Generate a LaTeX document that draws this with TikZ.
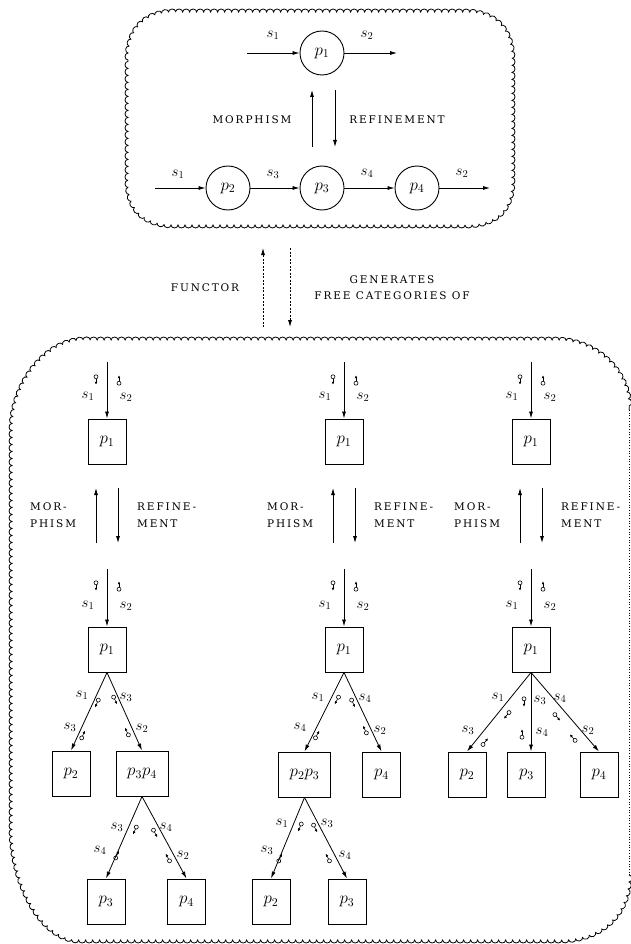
\RequirePackage{fix-cm}
\documentclass[tikz,border=0pt]{standalone}
\usepackage{fontspec}
\newfontfamily\capfont[LetterSpace=18]{DejaVu Serif}
\usetikzlibrary{arrows.meta,decorations.pathmorphing}
\tikzset{
 cloud/.style={decorate,decoration={bumps,segment length=14pt,amplitude=3pt},line width=0.8pt},
 proc/.style={circle,draw,line width=0.9pt,minimum size=44pt,inner sep=0pt,font=\fontsize{17}{19}\selectfont},
 pbox/.style={rectangle,draw,line width=1pt,minimum width=38pt,minimum height=45pt,inner sep=0pt,font=\fontsize{17}{19}\selectfont},
 wbox/.style={pbox,minimum width=52pt},
 flow/.style={-{Latex[length=7pt,width=4pt]},line width=0.8pt},
 dflow/.style={flow,dash pattern=on 2pt off 1.5pt},
 captext/.style={font=\capfont\fontsize{10.5}{17}\selectfont,inner sep=0pt},
 slab/.style={font=\fontsize{15}{17}\selectfont,inner sep=0pt},
}
\newcommand\tok[3]{%
 \draw[line width=0.6pt] (#1,#2) ++({#3+180}:3.2pt) circle[radius=2pt];
 \draw[line width=0.6pt,-{Latex[length=3pt,width=2.8pt]}] (#1,#2) ++({#3+180}:1.2pt) -- ++(#3:6pt);
}
\begin{document}
\begin{tikzpicture}[x=1pt,y=-1pt]
\useasboundingbox (0,0) rectangle (631,944);
% ---------- top box ----------
\draw[cloud] (128,60) .. controls (128,30) and (145,12) .. (175,12) -- (465,12)
  .. controls (495,12) and (512,30) .. (512,60) -- (512,180)
  .. controls (512,210) and (495,225) .. (465,225) -- (175,225)
  .. controls (145,225) and (128,210) .. (128,180) -- cycle;
\node[proc] (tp1) at (322,53) {$p_1$};
\node[proc] (tp2) at (228,188) {$p_2$};
\node[proc] (tp3) at (322,188) {$p_3$};
\node[proc] (tp4) at (417,188) {$p_4$};
\coordinate (tin1) at (247,53); \coordinate (tout1) at (397,53);
\coordinate (tin2) at (155,188); \coordinate (tout2) at (490,188);
\draw[flow] (tin1) -- (tp1);
\draw[flow] (tp1) -- (tout1);
\draw[flow] (tin2) -- (tp2);
\draw[flow] (tp2) -- (tp3);
\draw[flow] (tp3) -- (tp4);
\draw[flow] (tp4) -- (tout2);
\node[slab] (ts1a) at (273,35) {$s_1$};
\node[slab] (ts2a) at (367,35) {$s_2$};
\node[slab] (ts1b) at (178,174) {$s_1$};
\node[slab] (ts3b) at (273,174) {$s_3$};
\node[slab] (ts4b) at (367,173) {$s_4$};
\node[slab] (ts2b) at (462,173) {$s_2$};
\coordinate (mu1) at (312,147); \coordinate (mu2) at (312,90);
\coordinate (md1) at (335,90); \coordinate (md2) at (335,147);
\draw[flow] (mu1) -- (mu2);
\draw[flow] (md1) -- (md2);
\node[captext] (tmor) at (252,120) {MORPHISM};
\node[captext] (tref) at (397,120) {REFINEMENT};
% ---------- functor ----------
\coordinate (fu1) at (263,327); \coordinate (fu2) at (263,248);
\coordinate (fd1) at (290,248); \coordinate (fd2) at (290,327);
\draw[dflow] (fu1) -- (fu2);
\draw[dflow] (fd1) -- (fd2);
\node[captext] (functor) at (205,288) {FUNCTOR};
\node[captext,align=center,font=\capfont\fontsize{10.5}{16}\selectfont] (gen) at (392,288) {GENERATES\\FREE CATEGORIES OF};
% ---------- bottom box ----------
\draw[cloud] (629,875) .. controls (629,915) and (600,940) .. (560,940) -- (80,940)
  .. controls (40,940) and (12,880) .. (12,830) -- (12,430)
  .. controls (12,385) and (45,340) .. (85,340) -- (555,340)
  .. controls (595,340) and (629,370) .. (629,410);
\draw[dotted,line width=0.7pt] (629,410) -- (629,875);
% ---------- three columns ----------
\foreach \c/\x in {L/107,M/344,R/531}{
  \node[pbox] (\c a) at (\x,441.5) {$p_1$};
  \coordinate (\c ain) at (\x,362);
  \draw[flow] (\c ain) -- (\c a);
  \node[slab] (\c s1a) at (\x-19,396) {$s_1$};
  \node[slab] (\c s2a) at (\x+19,397) {$s_2$};
  \tok{\x-11}{380}{270}
  \tok{\x+12}{380}{90}
  \coordinate (\c mu1) at (\x-11,543); \coordinate (\c mu2) at (\x-11,488);
  \coordinate (\c md1) at (\x+11,488); \coordinate (\c md2) at (\x+11,543);
  \draw[flow] (\c mu1) -- (\c mu2);
  \draw[flow] (\c md1) -- (\c md2);
  \node[captext,anchor=west,align=left] (\c mor) at (\x-77,515) {MOR-\\PHISM};
  \node[captext,anchor=west,align=left] (\c ref) at (\x+30,515) {REFINE-\\MENT};
  \node[pbox] (\c b) at (\x,649.5) {$p_1$};
  \coordinate (\c bin) at (\x,569);
  \draw[flow] (\c bin) -- (\c b);
  \node[slab] (\c s1b) at (\x-19,605) {$s_1$};
  \node[slab] (\c s2b) at (\x+19,606) {$s_2$};
  \tok{\x-11}{586}{270}
  \tok{\x+12}{586}{90}
}
% ---------- left tree ----------
\node[pbox] (Lp2) at (71,773.5) {$p_2$};
\node[wbox] (Lp34) at (142,773.5) {$p_3p_4$};
\node[pbox] (Lp3) at (106,901.5) {$p_3$};
\node[pbox] (Lp4) at (186.5,901.5) {$p_4$};
\draw[flow] (Lb.south) -- (Lp2.north);
\draw[flow] (Lb.south) -- (Lp34.north);
\draw[flow] (Lp34.south) -- (Lp3.north);
\draw[flow] (Lp34.south) -- (Lp4.north);
\node[slab] (La1) at (82,695) {$s_1$}; \tok{97}{703}{246}
\node[slab] (La2) at (70,727) {$s_3$}; \tok{83}{735}{66}
\node[slab] (La3) at (126,697) {$s_3$}; \tok{115}{700}{296}
\node[slab] (La4) at (142,728) {$s_2$}; \tok{127}{732}{116}
\node[slab] (La5) at (117,827) {$s_3$}; \tok{135}{830}{246}
\node[slab] (La6) at (100,850) {$s_4$}; \tok{117}{855}{66}
\node[slab] (La7) at (166,827) {$s_4$}; \tok{155}{833}{298}
\node[slab] (La8) at (183,855) {$s_2$}; \tok{168}{858}{118}
% ---------- middle tree ----------
\node[wbox] (Mp23) at (304.5,774.5) {$p_2p_3$};
\node[pbox] (Mp4) at (381.5,774.5) {$p_4$};
\node[pbox] (Mp2) at (271,901.5) {$p_2$};
\node[pbox] (Mp3) at (347,901.5) {$p_3$};
\draw[flow] (Mb.south) -- (Mp23.north);
\draw[flow] (Mb.south) -- (Mp4.north);
\draw[flow] (Mp23.south) -- (Mp2.north);
\draw[flow] (Mp23.south) -- (Mp3.north);
\node[slab] (Ma1) at (318,697) {$s_1$}; \tok{337}{700}{242}
\node[slab] (Ma2) at (300,727) {$s_4$}; \tok{317}{735}{62}
\node[slab] (Ma3) at (365,698) {$s_4$}; \tok{353}{703}{296}
\node[slab] (Ma4) at (380,730) {$s_2$}; \tok{365}{730}{116}
\node[slab] (Ma5) at (282,823) {$s_1$}; \tok{300}{827}{247}
\node[slab] (Ma6) at (267,850) {$s_3$}; \tok{280}{858}{67}
\node[slab] (Ma7) at (327,823) {$s_3$}; \tok{315}{828}{297}
\node[slab] (Ma8) at (345,855) {$s_4$}; \tok{328}{858}{117}
% ---------- right tree ----------
\node[pbox] (Rp2) at (467,774.5) {$p_2$};
\node[pbox] (Rp3) at (526.5,774.5) {$p_3$};
\node[pbox] (Rp4) at (599,774.5) {$p_4$};
\draw[flow] (Rb.south) -- (Rp2.north);
\draw[flow] (Rb.south) -- (Rb.south |- Rp3.north);
\draw[flow] (Rb.south) -- (Rp4.north);
\node[slab] (Ra1) at (498,697) {$s_1$}; \tok{507}{715}{231}
\node[slab] (Ra2) at (468,730) {$s_3$}; \tok{485}{742}{51}
\node[slab] (Ra3) at (540,700) {$s_3$}; \tok{524}{702}{270}
\node[slab] (Ra4) at (542,732) {$s_4$}; \tok{522}{734}{90}
\node[slab] (Ra5) at (560,698) {$s_4$}; \tok{557}{717}{311}
\node[slab] (Ra6) at (588,730) {$s_2$}; \tok{573}{738}{131}
\end{tikzpicture}
\end{document}
